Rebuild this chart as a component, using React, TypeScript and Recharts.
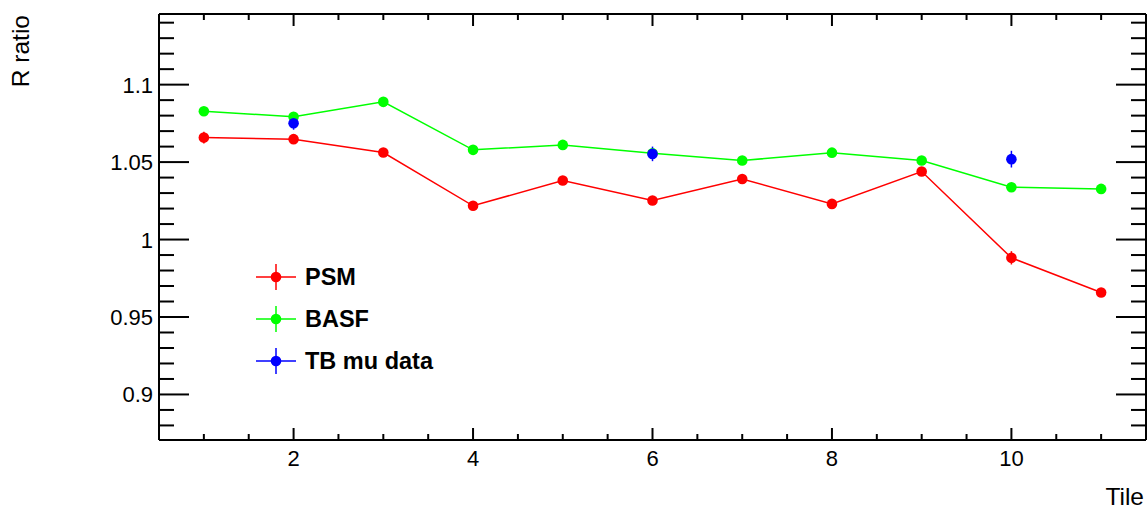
import React from "react";
import { ComposedChart, Line, XAxis, YAxis, ErrorBar, Legend } from "recharts";

const tiles = [1, 2, 3, 4, 5, 6, 7, 8, 9, 10, 11];
const psm = [1.0658, 1.0648, 1.0562, 1.0218, 1.0381, 1.0252, 1.0391, 1.023, 1.0439, 0.9882, 0.9658];
const psmErr = [0.0038, 0.0015, 0.0015, 0.0015, 0.0015, 0.0015, 0.0015, 0.0015, 0.0015, 0.0043, 0.0015];
const basf = [1.0828, 1.0793, 1.0889, 1.0579, 1.0611, 1.0557, 1.051, 1.0561, 1.051, 1.0338, 1.0327];
const basfErr = [0.001, 0.001, 0.001, 0.001, 0.001, 0.001, 0.001, 0.001, 0.001, 0.001, 0.001];
const tbMu: (number | null)[] = [null, 1.0751, null, null, null, 1.0553, null, null, null, 1.0519, null];
const tbMuErr: (number | null)[] = [null, 0.0042, null, null, null, 0.0047, null, null, null, 0.0054, null];

const xTicks = [1, 1.5, 2, 2.5, 3, 3.5, 4, 4.5, 5, 5.5, 6, 6.5, 7, 7.5, 8, 8.5, 9, 9.5, 10, 10.5, 11];
const xMajor = [2, 4, 6, 8, 10];
const yTicks = [
  0.88, 0.89, 0.9, 0.91, 0.92, 0.93, 0.94, 0.95, 0.96, 0.97, 0.98, 0.99, 1, 1.01, 1.02, 1.03, 1.04, 1.05,
  1.06, 1.07, 1.08, 1.09, 1.1, 1.11, 1.12, 1.13, 1.14,
];
const yMajor = [0.9, 0.95, 1, 1.05, 1.1];

const series = [
  { key: "psm", err: "psmErr", name: "PSM", color: "#ff0000" },
  { key: "basf", err: "basfErr", name: "BASF", color: "#00ff00" },
  { key: "tb", err: "tbErr", name: "TB mu data", color: "#0000ff" },
];

const data = tiles.map((t, i) => ({
  x: t,
  psm: psm[i],
  psmErr: psmErr[i],
  basf: basf[i],
  basfErr: basfErr[i],
  tb: tbMu[i],
  tbErr: tbMuErr[i],
}));

const FONT = "'Liberation Sans', Arial, Helvetica, sans-serif";
const isMajor = (v: number, majors: number[]) => majors.some((m) => Math.abs(m - v) < 1e-6);

const BottomTick = (props: any) => {
  const { x, y, payload } = props;
  const major = isMajor(payload.value, xMajor);
  return (
    <g>
      <line x1={x} x2={x} y1={y} y2={y - (major ? 12 : 6)} stroke="#000" strokeWidth={2} />
      {major && (
        <text x={x} y={y + 26} textAnchor="middle" fontSize={22} fontFamily={FONT} fill="#000">
          {String(payload.value)}
        </text>
      )}
    </g>
  );
};

const TopTick = (props: any) => {
  const { x, y, payload } = props;
  const major = isMajor(payload.value, xMajor);
  return <line x1={x} x2={x} y1={y} y2={y + (major ? 12 : 6)} stroke="#000" strokeWidth={2} />;
};

const LeftTick = (props: any) => {
  const { x, y, payload } = props;
  const major = isMajor(payload.value, yMajor);
  return (
    <g>
      <line x1={x} x2={x + (major ? 30 : 15)} y1={y} y2={y} stroke="#000" strokeWidth={2} />
      {major && (
        <text x={x - 6} y={y + 8} textAnchor="end" fontSize={22} fontFamily={FONT} fill="#000">
          {String(payload.value)}
        </text>
      )}
    </g>
  );
};

const RightTick = (props: any) => {
  const { x, y, payload } = props;
  const major = isMajor(payload.value, yMajor);
  return <line x1={x} x2={x - (major ? 30 : 15)} y1={y} y2={y} stroke="#000" strokeWidth={2} />;
};

const LegendBox = () => (
  <svg width={220} height={130} style={{ display: "block" }}>
    {series.map((s, i) => {
      const cy = 22 + i * 42;
      return (
        <g key={s.key}>
          <line x1={6} x2={46} y1={cy} y2={cy} stroke={s.color} strokeWidth={1.5} />
          <line x1={26} x2={26} y1={cy - 13} y2={cy + 13} stroke={s.color} strokeWidth={1.5} />
          <circle cx={26} cy={cy} r={5.3} fill={s.color} />
          <text x={55} y={cy + 8} fontSize={23.5} fontWeight="bold" fontFamily={FONT} fill="#000">
            {s.name}
          </text>
        </g>
      );
    })}
  </svg>
);

export default function App() {
  return (
    <div style={{ position: "absolute", left: 0, top: 0, width: 1147, height: 510, background: "#fff" }}>
      <ComposedChart width={1147} height={510} data={data} margin={{ top: 0, right: 0, bottom: 0, left: 0 }}>
        <XAxis
          xAxisId="bottom"
          dataKey="x"
          type="number"
          domain={[0.5, 11.5]}
          ticks={xTicks}
          interval={0}
          height={70}
          tickSize={0}
          tickMargin={0}
          tickLine={false}
          tick={<BottomTick />}
          axisLine={{ stroke: "#000", strokeWidth: 2 }}
          allowDataOverflow
          label={{
            content: (p: any) => {
              const vb = p.viewBox;
              return (
                <text
                  x={vb.x + vb.width - 2}
                  y={vb.y + vb.height - 5}
                  textAnchor="end"
                  fontSize={24.5}
                  fontFamily={FONT}
                  fill="#000"
                >
                  Tile
                </text>
              );
            },
          }}
        />
        <XAxis
          xAxisId="top"
          orientation="top"
          dataKey="x"
          type="number"
          domain={[0.5, 11.5]}
          ticks={xTicks}
          interval={0}
          height={14}
          tickSize={0}
          tickMargin={0}
          tickLine={false}
          tick={<TopTick />}
          axisLine={{ stroke: "#000", strokeWidth: 2 }}
          allowDataOverflow
        />
        <YAxis
          yAxisId="left"
          type="number"
          domain={[0.8706, 1.1456]}
          ticks={yTicks}
          interval={0}
          width={159}
          tickSize={0}
          tickMargin={0}
          tickLine={false}
          tick={<LeftTick />}
          axisLine={{ stroke: "#000", strokeWidth: 2 }}
          allowDataOverflow
          label={{
            content: (p: any) => {
              const vb = p.viewBox;
              const x = 29;
              const y = vb.y + 1;
              return (
                <text
                  x={x}
                  y={y}
                  transform={`rotate(-90, ${x}, ${y})`}
                  textAnchor="end"
                  fontSize={24.5}
                  fontFamily={FONT}
                  fill="#000"
                >
                  R ratio
                </text>
              );
            },
          }}
        />
        <YAxis
          yAxisId="right"
          orientation="right"
          type="number"
          domain={[0.8706, 1.1456]}
          ticks={yTicks}
          interval={0}
          width={1}
          tickSize={0}
          tickMargin={0}
          tickLine={false}
          tick={<RightTick />}
          axisLine={{ stroke: "#000", strokeWidth: 2 }}
          allowDataOverflow
        />
        {series.map((s) => (
          <Line
            key={s.key}
            xAxisId="bottom"
            yAxisId="left"
            dataKey={s.key}
            name={s.name}
            type="linear"
            stroke={s.key === "tb" ? "none" : s.color}
            strokeWidth={1.5}
            dot={{ r: 5.3, fill: s.color, stroke: "none" }}
            activeDot={false}
            isAnimationActive={false}
            connectNulls={false}
          >
            <ErrorBar dataKey={s.err} width={0} stroke={s.color} strokeWidth={1.5} direction="y" />
          </Line>
        ))}
        <Legend
          layout="vertical"
          align="center"
          verticalAlign="middle"
          content={() => <LegendBox />}
          wrapperStyle={{ position: "absolute", left: 250, top: 255, width: 220, height: 130 }}
        />
      </ComposedChart>
    </div>
  );
}
